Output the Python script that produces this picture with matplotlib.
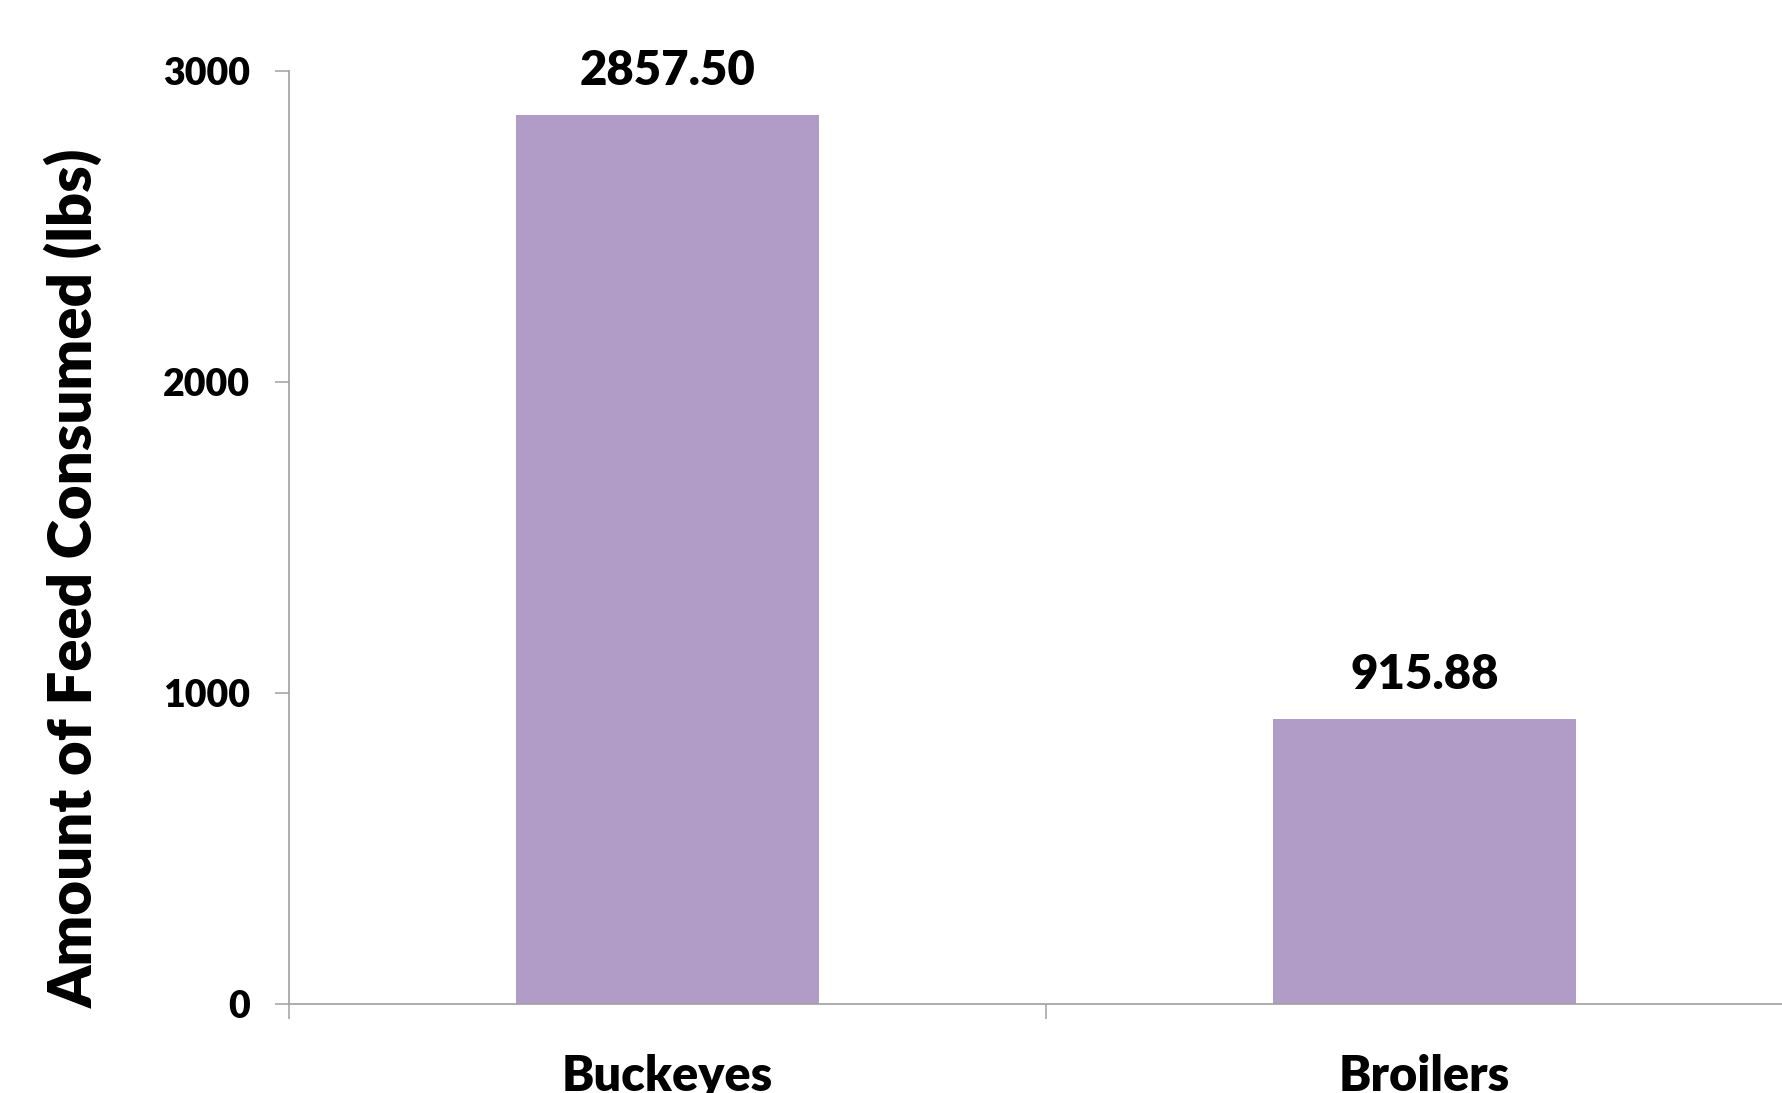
import matplotlib
matplotlib.use("Agg")
import matplotlib.pyplot as plt
from matplotlib.ticker import FixedLocator

categories = ["Buckeyes", "Broilers"]
values = [2857.50, 915.88]
yticks = [0, 1000, 2000, 3000]

plt.rcParams['font.family'] = ['Lato', 'DejaVu Sans']

W, H = 1783, 1093
fig = plt.figure(figsize=(W / 100, H / 100), dpi=100)
left, right = 289, 1803
top, bottom = 70.5, 1004
ax = fig.add_axes([left / W, (H - bottom) / H, (right - left) / W, (bottom - top) / H])

x = list(range(len(categories)))
ax.bar(x, values, width=0.4, color="#b19cc7", zorder=2)
ax.set_xlim(-0.5, len(categories) - 0.5)
ax.set_ylim(0, 3000)

for xi, v in zip(x, values):
    ax.annotate(f"{v:.2f}", (xi, v), xytext=(0, 16), textcoords="offset points",
                ha="center", va="bottom", fontsize=34, fontweight="heavy")

ax.set_yticks(yticks)
ax.set_yticklabels([str(t) for t in yticks], fontsize=27, fontweight="heavy")
ax.tick_params(axis="y", length=10, width=1.1, color="#a0a0a0", pad=18)

ax.set_xticks(x)
ax.set_xticklabels(categories, fontsize=35, fontweight="heavy")
ax.tick_params(axis="x", which="major", length=0, pad=36)
ax.xaxis.set_minor_locator(FixedLocator([-0.5 + i for i in range(len(categories) + 1)]))
ax.tick_params(axis="x", which="minor", length=11, width=1.1, color="#a0a0a0")

for s in ["top", "right"]:
    ax.spines[s].set_visible(False)
for s in ["left", "bottom"]:
    ax.spines[s].set_color("#a0a0a0")
    ax.spines[s].set_linewidth(1.2)

fig.text(74 / W, 1 - 578 / H, "Amount of Feed Consumed (lbs)", rotation=90,
         ha="center", va="center", fontsize=43, fontweight="heavy")

fig.savefig("out.png", dpi=100)
